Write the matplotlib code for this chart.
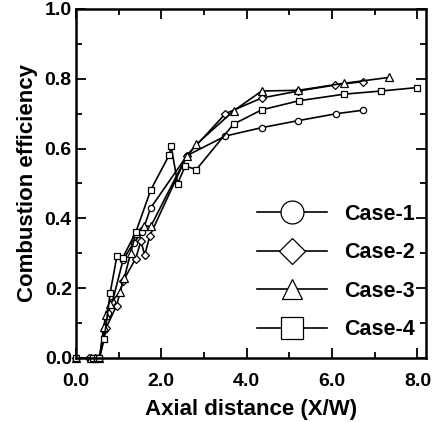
import matplotlib
matplotlib.use("Agg")
import matplotlib.pyplot as plt
from matplotlib.ticker import MultipleLocator, FormatStrFormatter
from matplotlib.lines import Line2D

plt.rcParams['font.family'] = ['Liberation Sans', 'DejaVu Sans']
plt.rcParams['font.weight'] = 'bold'

case1_x = [0, 0.35, 0.45, 0.55, 0.65, 0.75, 0.85, 1.1, 1.35, 1.55, 1.75, 2.6, 3.5, 4.35, 5.2, 6.1, 6.72]
case1_y = [0, 0, 0, 0, 0.08, 0.13, 0.16, 0.28, 0.33, 0.36, 0.43, 0.58, 0.636, 0.66, 0.68, 0.70, 0.71]

case2_x = [0, 0.3, 0.45, 0.55, 0.7, 0.95, 1.1, 1.4, 1.52, 1.61, 1.73, 2.6, 3.5, 4.35, 5.21, 6.06, 6.72]
case2_y = [0, 0, 0, 0, 0.085, 0.15, 0.22, 0.285, 0.335, 0.295, 0.35, 0.58, 0.70, 0.745, 0.765, 0.782, 0.792]

case3_x = [0, 0.35, 0.45, 0.55, 0.65, 0.7, 0.8, 1.03, 1.13, 1.28, 1.4, 1.59, 1.75, 2.6, 2.82, 3.69, 4.35, 5.21, 6.27, 7.34]
case3_y = [0, 0, 0, 0, 0.09, 0.124, 0.155, 0.19, 0.229, 0.30, 0.358, 0.379, 0.377, 0.58, 0.612, 0.708, 0.765, 0.767, 0.787, 0.804]

case4_x = [0, 0.4, 0.5, 0.55, 0.66, 0.8, 0.96, 1.09, 1.4, 1.75, 2.18, 2.23, 2.38, 2.56, 2.82, 3.69, 4.35, 5.22, 6.28, 7.15, 8.0]
case4_y = [0, 0, 0, 0, 0.054, 0.186, 0.293, 0.286, 0.36, 0.481, 0.581, 0.607, 0.50, 0.55, 0.540, 0.670, 0.711, 0.737, 0.756, 0.765, 0.775]

labels = ['Case-1', 'Case-2', 'Case-3', 'Case-4']
markers = ['o', 'D', '^', 's']
msizes = [4.5, 4, 5.5, 5]
series = [(case1_x, case1_y), (case2_x, case2_y), (case3_x, case3_y), (case4_x, case4_y)]

fig = plt.figure(figsize=(4.37, 4.22), dpi=100)
ax = fig.add_axes([76/437, 1 - 358/422, 350/437, 349/422])

for (xs, ys), m, ms in zip(series, markers, msizes):
    ax.plot(xs, ys, color='black', lw=1.2, marker=m, ms=ms, mfc='white', mec='black', mew=0.9,
            clip_on=False)

ax.set_xlim(0, 8.2)
ax.set_ylim(0, 1.0)
ax.set_xticks([0, 2, 4, 6, 8])
ax.set_xticks([1, 3, 5, 7], minor=True)
ax.yaxis.set_major_locator(MultipleLocator(0.2))
ax.yaxis.set_minor_locator(MultipleLocator(0.1))
ax.xaxis.set_major_formatter(FormatStrFormatter('%.1f'))
ax.yaxis.set_major_formatter(FormatStrFormatter('%.1f'))
ax.tick_params(which='both', direction='in', top=True, right=True, width=1.3)
ax.tick_params(which='major', length=7, labelsize=14)
ax.tick_params(which='minor', length=4)
ax.tick_params(axis='x', which='major', pad=11)
ax.tick_params(axis='y', which='major', pad=3)
for s in ax.spines.values():
    s.set_linewidth(1.8)
for lab in ax.get_xticklabels() + ax.get_yticklabels():
    lab.set_fontweight('bold')

ax.set_xlabel('Axial distance (X/W)', fontsize=16, fontweight='bold', labelpad=6)
ax.set_ylabel('Combustion efficiency', fontsize=16, fontweight='bold', labelpad=4.5)

handles = [Line2D([], [], color='black', lw=1.2, marker=m, ms=ms, mfc='white', mec='black', mew=0.9)
           for m, ms in zip(markers, [16.5, 13, 14.5, 16.5])]
leg = ax.legend(handles, labels, loc='lower right', frameon=False, fontsize=15.5,
                handlelength=3.25, labelspacing=0.81, handletextpad=0.8,
                borderpad=0.2, borderaxespad=0.3, bbox_to_anchor=(1.0, 0.02))
for t in leg.get_texts():
    t.set_fontweight('bold')

fig.savefig('out.png', dpi=100)
